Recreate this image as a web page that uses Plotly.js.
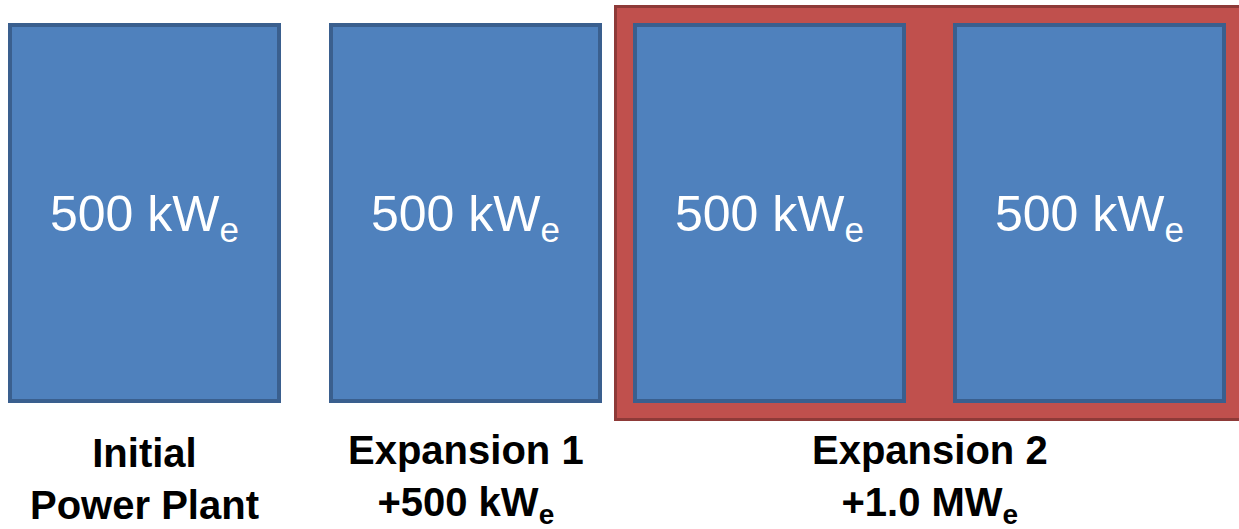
<!DOCTYPE html>
<html>
<head>
<meta charset="utf-8">
<script src="https://cdn.plot.ly/plotly-3.0.1.min.js"></script>
<style>html,body{margin:0;padding:0;background:#fff;} #chart{width:1239px;height:529px;}</style>
</head>
<body>
<div id="chart"></div>
<script>
// ---- data ----
const groupNames = ["Initial", "Expansion 1", "Expansion 2"];
const groupSubtitles = ["Power Plant", "+500 kW<sub>e</sub>", "+1.0 MW<sub>e</sub>"];
const unitCapacityKW = [500, 500, 500, 500];
const unitGroup = [0, 1, 2, 2];
const highlightedGroup = 2;

// ---- layout constants (positions / styles) ----
const W = 1239, H = 529;
const unitLeft = [8, 329, 633, 953];
const unitWidth = 273;
const unitTop = 23, unitBottom = 403;
const blueFill = "#4F81BD", blueLine = "#3A5F8E";
const redFill = "#C0504D", redLine = "#8E3A38";

const shapes = [];
const annotations = [];

// highlight frame around the highlighted group
const hlUnits = unitGroup.map((g, i) => g === highlightedGroup ? i : -1).filter(i => i >= 0);
const hlX0 = Math.min(...hlUnits.map(i => unitLeft[i])) - 19;
const hlX1 = Math.max(...hlUnits.map(i => unitLeft[i] + unitWidth)) + 17;
shapes.push({type: "rect", xref: "x", yref: "y", x0: hlX0 + 1.5, x1: hlX1, y0: 6.5, y1: 419.5,
  fillcolor: redFill, line: {color: redLine, width: 3}, layer: "below"});

unitCapacityKW.forEach((kw, i) => {
  const x0 = unitLeft[i], x1 = x0 + unitWidth;
  shapes.push({type: "rect", xref: "x", yref: "y", x0: x0 + 2, x1: x1 - 2, y0: unitTop + 2, y1: unitBottom - 2,
    fillcolor: blueFill, line: {color: blueLine, width: 4}, layer: "below"});
  annotations.push({xref: "x", yref: "y", x: (x0 + x1) / 2, y: 217, xanchor: "center", yanchor: "middle",
    text: kw + " kW<sub>e</sub>", showarrow: false,
    font: {family: "Liberation Sans, Arial, sans-serif", size: 50, color: "#ffffff"}});
});

groupNames.forEach((name, g) => {
  const idx = unitGroup.map((gg, i) => gg === g ? i : -1).filter(i => i >= 0);
  const cx = (Math.min(...idx.map(i => unitLeft[i])) + Math.max(...idx.map(i => unitLeft[i] + unitWidth))) / 2;
  annotations.push({xref: "x", yref: "y", x: cx, y: 479, xanchor: "center", yanchor: "middle",
    text: "<b>" + name + "<br>" + groupSubtitles[g] + "</b>", showarrow: false,
    font: {family: "Liberation Sans, Arial, sans-serif", size: 40, color: "#000000"}});
});

const layout = {
  width: W, height: H,
  margin: {l: 0, r: 0, t: 0, b: 0},
  paper_bgcolor: "#ffffff", plot_bgcolor: "#ffffff",
  xaxis: {range: [0, W], visible: false, fixedrange: true},
  yaxis: {range: [H, 0], visible: false, fixedrange: true},
  showlegend: false,
  shapes: shapes,
  annotations: annotations
};

Plotly.newPlot("chart", [{x: [], y: [], type: "scatter", mode: "markers", hoverinfo: "skip"}], layout, {displayModeBar: false, staticPlot: true});
</script>
</body>
</html>
